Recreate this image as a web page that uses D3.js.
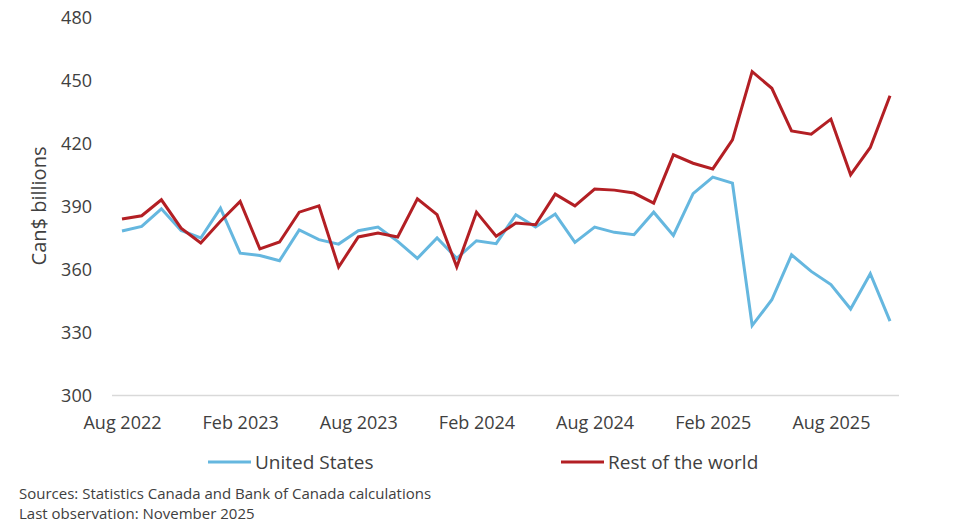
<!DOCTYPE html>
<html>
<head>
<meta charset="utf-8">
<script src="https://cdn.jsdelivr.net/npm/d3@7"></script>
<style>
  body { margin: 0; background: #fff; }
  text { font-family: "Open Sans", sans-serif; fill: #404040; }
</style>
</head>
<body>
<svg id="chart" width="954" height="523"></svg>
<script>
// months Aug 2022 .. Nov 2025
var months = [];
var monthNames = ["Jan","Feb","Mar","Apr","May","Jun","Jul","Aug","Sep","Oct","Nov","Dec"];
for (var k = 0; k < 40; k++) {
  var m = (7 + k) % 12, yr = 2022 + Math.floor((7 + k) / 12);
  months.push(monthNames[m] + " " + yr);
}

var unitedStates = [
  378.3, 380.5, 388.9, 378.6, 375.0, 389.2, 367.8, 366.7, 364.2, 378.8,
  374.2, 372.1, 378.5, 380.2, 373.4, 365.3, 375.0, 365.3, 373.7, 372.3,
  386.1, 380.2, 386.4, 372.9, 380.2, 377.7, 376.6, 387.3, 376.2, 396.1,
  404.0, 401.1, 333.3, 345.6, 367.0, 359.1, 352.8, 341.2, 358.0, 335.4
];
var restOfWorld = [
  384.0, 385.6, 393.2, 379.7, 372.6, 383.0, 392.4, 369.8, 373.1, 387.3,
  390.3, 361.2, 375.5, 377.4, 375.5, 393.7, 386.1, 361.2, 387.3, 375.8,
  382.1, 381.3, 395.9, 390.3, 398.3, 397.8, 396.4, 391.6, 414.6, 410.6,
  407.9, 421.7, 454.2, 446.3, 426.0, 424.4, 431.6, 405.1, 418.1, 442.7
];
var yTicks = [300, 330, 360, 390, 420, 450, 480];
var xTickLabels = ["Aug 2022", "Feb 2023", "Aug 2023", "Feb 2024", "Aug 2024", "Feb 2025", "Aug 2025"];

var series = [
  { name: "United States", values: unitedStates, color: "#65b7df" },
  { name: "Rest of the world", values: restOfWorld, color: "#b31f24" }
];

var svg = d3.select("#chart");

var x = d3.scalePoint().domain(months).range([122, 890]);
var y = d3.scaleLinear().domain([300, 480]).range([395.5, 17.5]);

// x axis baseline
svg.append("line")
  .attr("x1", 112).attr("x2", 899)
  .attr("y1", y(300)).attr("y2", y(300))
  .attr("stroke", "#d9d9d9").attr("stroke-width", 1.5);

// y tick labels
var yAxis = svg.append("g")
  .attr("transform", "translate(92,0)")
  .call(d3.axisLeft(y).tickValues(yTicks).tickSize(0).tickPadding(0));
yAxis.select(".domain").remove();
yAxis.selectAll("text")
  .attr("font-family", "Open Sans").attr("font-size", "18px").attr("fill", "#404040");

// x tick labels
var xAxis = svg.append("g")
  .attr("transform", "translate(0," + (y(300) + 17) + ")")
  .call(d3.axisBottom(x).tickValues(xTickLabels).tickSize(0).tickPadding(4));
xAxis.select(".domain").remove();
xAxis.selectAll("text")
  .attr("font-family", "Open Sans").attr("font-size", "18px").attr("fill", "#404040");

// y axis title
svg.append("text")
  .attr("transform", "translate(46,206) rotate(-90)")
  .attr("text-anchor", "middle")
  .attr("font-size", "20px")
  .text("Can$ billions");

// lines
var line = d3.line()
  .x(function(d, i) { return x(months[i]); })
  .y(function(d) { return y(d); });

series.forEach(function(s) {
  svg.append("path")
    .datum(s.values)
    .attr("d", line)
    .attr("fill", "none")
    .attr("stroke", s.color)
    .attr("stroke-width", 3)
    .attr("stroke-linejoin", "miter");
});

// legend
var legendX = [208, 561];
series.forEach(function(s, i) {
  svg.append("line")
    .attr("x1", legendX[i]).attr("x2", legendX[i] + 43)
    .attr("y1", 462).attr("y2", 462)
    .attr("stroke", s.color).attr("stroke-width", 3);
  svg.append("text")
    .attr("x", legendX[i] + 47).attr("y", 469)
    .attr("font-size", "19px")
    .text(s.name);
});

// footer
svg.append("text").attr("x", 19).attr("y", 499).attr("font-size", "15px")
  .text("Sources: Statistics Canada and Bank of Canada calculations");
svg.append("text").attr("x", 19).attr("y", 519).attr("font-size", "15px")
  .text("Last observation: November 2025");
</script>
</body>
</html>
